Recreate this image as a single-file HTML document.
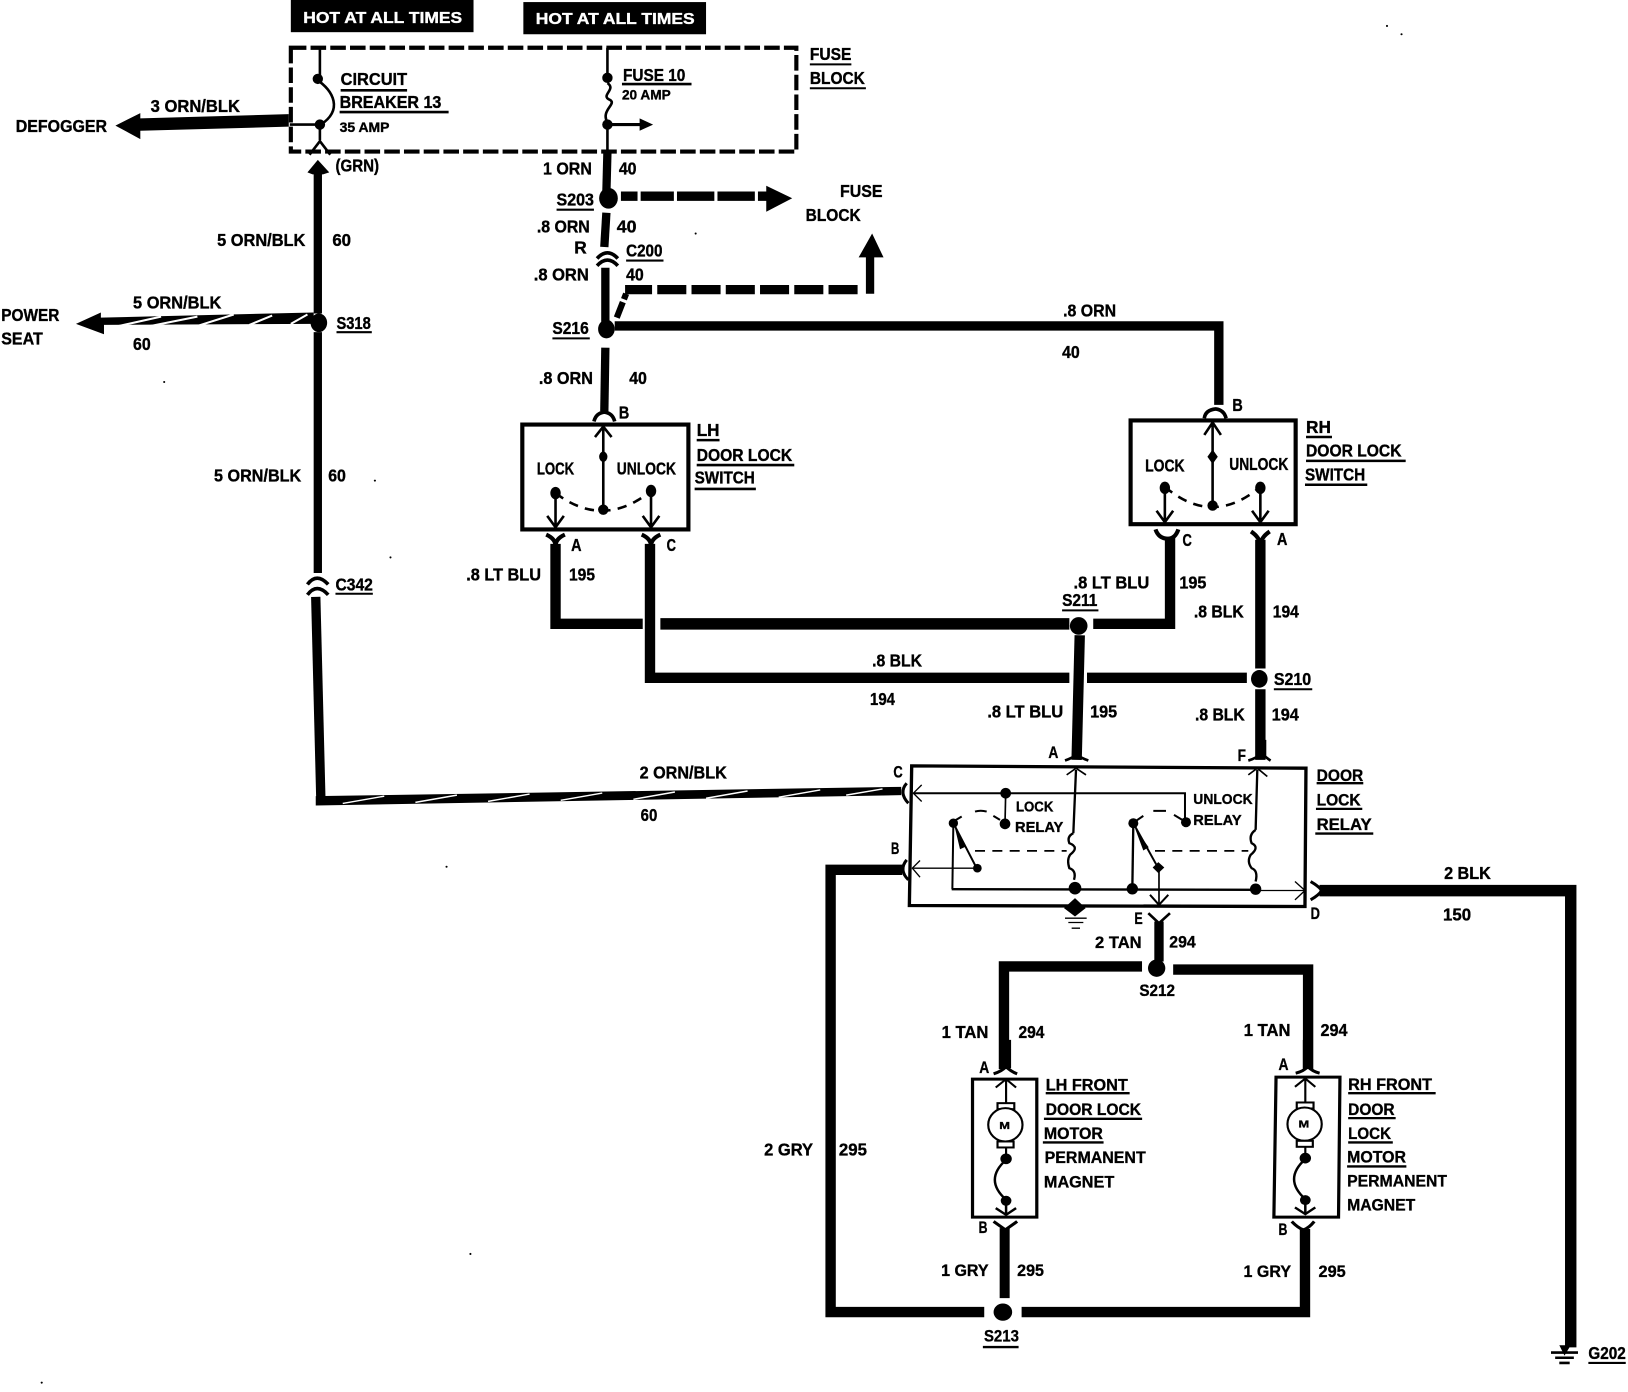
<!DOCTYPE html>
<html><head><meta charset="utf-8"><style>
html,body{margin:0;padding:0;background:#fff;width:1628px;height:1392px;overflow:hidden}
svg{display:block}
text{font-family:"Liberation Sans",sans-serif;font-weight:bold;font-size:16.5px;fill:#000;stroke:#000;stroke-width:.35px}
.s{font-size:13px}
text.w{fill:#fff;stroke:#fff;font-size:15px}
.z text{font-size:50px;stroke-width:1px}
.z .m{font-size:30px}
.k{fill:none;stroke:#000;stroke-linejoin:miter;stroke-linecap:butt}
</style></head><body>
<svg width="1628" height="1392" viewBox="0 0 1568 1341" xmlns="http://www.w3.org/2000/svg">
<rect width="1568" height="1341" fill="#fff"/>
<!-- hot boxes -->
<rect x="280" y="0" width="176" height="31" fill="#000"/>
<rect x="504" y="2" width="176" height="31" fill="#000"/>
<text class="w" x="292" y="22" textLength="153" lengthAdjust="spacingAndGlyphs">HOT AT ALL TIMES</text>
<text class="w" x="516" y="23" textLength="153" lengthAdjust="spacingAndGlyphs">HOT AT ALL TIMES</text>
<!-- fuse block -->
<path class="k" d="M280,46H767V146H280Z" stroke-width="4" stroke-dasharray="15 4"/>
<text x="780" y="58" textLength="40" lengthAdjust="spacingAndGlyphs">FUSE</text>
<text x="780" y="81" textLength="53" lengthAdjust="spacingAndGlyphs">BLOCK</text>
<path class="k" d="M780,62H820M780,85H834" stroke-width="2"/>
<text x="328" y="82" textLength="64" lengthAdjust="spacingAndGlyphs">CIRCUIT</text>
<text x="327" y="104" textLength="98" lengthAdjust="spacingAndGlyphs">BREAKER 13</text>
<text class="s" x="327" y="127" textLength="48" lengthAdjust="spacingAndGlyphs">35 AMP</text>
<path class="k" d="M328,87H392M327,108H432" stroke-width="2.5"/>
<path class="k" d="M308,46V76" stroke-width="2.5"/>
<path class="k" d="M308,76C326,88 334,106 313,120" stroke-width="2.5" transform="translate(-4,0)"/>
<path class="k" d="M279,120H309" stroke-width="2.5"/>
<circle cx="306" cy="76" r="5"/><circle cx="308" cy="120" r="5"/>
<path class="k" d="M308,120V135M298,149L308,136L318,149" stroke-width="2.5"/>
<!-- defogger -->
<path d="M278,110V122L135,126V134L111,121L135,109V114Z"/>
<text x="145" y="108" textLength="86" lengthAdjust="spacingAndGlyphs">3 ORN/BLK</text>
<text x="15" y="127" textLength="88" lengthAdjust="spacingAndGlyphs">DEFOGGER</text>
<!-- left vertical -->
<path class="k" d="M306,165V302" stroke-width="8"/>
<path d="M296,166L306,154L317,166L311,168H301Z"/>
<text x="323" y="165" textLength="42" lengthAdjust="spacingAndGlyphs">(GRN)</text>
<text x="209" y="237" textLength="85" lengthAdjust="spacingAndGlyphs">5 ORN/BLK</text>
<text x="320" y="237" textLength="18" lengthAdjust="spacingAndGlyphs">60</text>
<ellipse cx="307" cy="311" rx="8" ry="9"/>
<text x="324" y="317" textLength="33" lengthAdjust="spacingAndGlyphs">S318</text>
<path class="k" d="M324,320H358" stroke-width="2"/>
<path class="k" d="M306,320V552" stroke-width="8"/>
<path class="k" d="M296,563Q305,551 316,563M296,573Q305,561 316,573" stroke-width="3.5"/>
<path class="k" d="M304,575L309,773" stroke-width="9"/>
<text x="206" y="464" textLength="84" lengthAdjust="spacingAndGlyphs">5 ORN/BLK</text>
<text x="316" y="464" textLength="17" lengthAdjust="spacingAndGlyphs">60</text>
<text x="323" y="569" textLength="36" lengthAdjust="spacingAndGlyphs">C342</text>
<path class="k" d="M323,572H359" stroke-width="2"/>
<!-- power seat -->
<path d="M302,301V312L100,313V322L73,312L97,301V306Z"/>
<g stroke="#fff" stroke-width="2"><path d="M110,315L155,305M140,315L190,305M190,314L225,303M240,313L262,304M280,312L296,303"/></g>
<text x="128" y="297" textLength="85" lengthAdjust="spacingAndGlyphs">5 ORN/BLK</text>
<text x="1" y="309" textLength="56" lengthAdjust="spacingAndGlyphs">POWER</text>
<text x="1" y="332" textLength="40" lengthAdjust="spacingAndGlyphs">SEAT</text>
<text x="128" y="337" textLength="17" lengthAdjust="spacingAndGlyphs">60</text>
<!-- 2 ORN/BLK -->
<path d="M304,767L868,758V766L304,776Z"/>
<g stroke="#fff" stroke-width="1.4"><path d="M330,774L370,767M400,773L440,766M470,772L510,765M540,771L580,764M610,770L650,763M680,769L720,762M750,768L790,761M815,766L850,760"/></g>
<text x="616" y="750" textLength="84" lengthAdjust="spacingAndGlyphs">2 ORN/BLK</text>
<text x="617" y="791" textLength="16" lengthAdjust="spacingAndGlyphs">60</text>
<!-- fuse 10 column -->
<path class="k" d="M585,46V73" stroke-width="2.5"/><circle cx="585" cy="75" r="5"/>
<path class="k" d="M585,80C594,86 578,92 587,96C595,100 578,106 585,118V146" stroke-width="2.5"/>
<circle cx="585" cy="120" r="5"/>
<path class="k" d="M585,120H618" stroke-width="3"/><path d="M616,114L629,120L616,126Z"/>
<text x="600" y="78" textLength="60" lengthAdjust="spacingAndGlyphs">FUSE 10</text>
<path class="k" d="M599,81H666" stroke-width="2.5"/>
<text class="s" x="599" y="96" textLength="47" lengthAdjust="spacingAndGlyphs">20 AMP</text>
<path class="k" d="M585,146L584,185" stroke-width="8"/>
<text x="523" y="168" textLength="47" lengthAdjust="spacingAndGlyphs">1 ORN</text>
<text x="596" y="168" textLength="17" lengthAdjust="spacingAndGlyphs">40</text>
<ellipse cx="586" cy="191" rx="9" ry="10"/>
<text x="536" y="198" textLength="36" lengthAdjust="spacingAndGlyphs">S203</text>
<path class="k" d="M536,202H572" stroke-width="2"/>
<path class="k" d="M598,189H742" stroke-width="9" stroke-dasharray="16 3 32 3 36 3 36 3"/>
<path d="M738,179L763,191L738,204Z"/>
<text x="809" y="190" textLength="41" lengthAdjust="spacingAndGlyphs">FUSE</text>
<text x="776" y="213" textLength="53" lengthAdjust="spacingAndGlyphs">BLOCK</text>
<path class="k" d="M584,205L582,238" stroke-width="8"/>
<text x="517" y="224" textLength="51" lengthAdjust="spacingAndGlyphs">.8 ORN</text>
<text x="594" y="224" textLength="19" lengthAdjust="spacingAndGlyphs">40</text>
<text x="553" y="244" textLength="12" lengthAdjust="spacingAndGlyphs">R</text>
<path class="k" d="M575,249Q585,238 595,249M575,256Q585,245 595,256" stroke-width="3.5"/>
<text x="603" y="247" textLength="35" lengthAdjust="spacingAndGlyphs">C200</text>
<path class="k" d="M603,251H639" stroke-width="2"/>
<path class="k" d="M583,258V310" stroke-width="8"/>
<text x="514" y="270" textLength="53" lengthAdjust="spacingAndGlyphs">.8 ORN</text>
<text x="603" y="270" textLength="17" lengthAdjust="spacingAndGlyphs">40</text>
<path class="k" d="M594,306L603,283" stroke-width="6" stroke-dasharray="16 3"/>
<path class="k" d="M602,279H838" stroke-width="9" stroke-dasharray="26 5 28 5 28 5 28 5 28 5 28 5 28"/>
<path class="k" d="M838,283V246" stroke-width="8"/>
<path d="M827,248L840,225L851,248Z"/>
<!-- S216 -->
<ellipse cx="584" cy="317" rx="8" ry="9"/>
<text x="532" y="322" textLength="35" lengthAdjust="spacingAndGlyphs">S216</text>
<path class="k" d="M532,326H568" stroke-width="2"/>
<path class="k" d="M592,314H1174V390" stroke-width="9"/>
<text x="1024" y="305" textLength="51" lengthAdjust="spacingAndGlyphs">.8 ORN</text>
<text x="1023" y="345" textLength="17" lengthAdjust="spacingAndGlyphs">40</text>
<path class="k" d="M583,335L582,396" stroke-width="8"/>
<text x="519" y="370" textLength="52" lengthAdjust="spacingAndGlyphs">.8 ORN</text>
<text x="606" y="370" textLength="17" lengthAdjust="spacingAndGlyphs">40</text>
<text x="596" y="403" textLength="10" lengthAdjust="spacingAndGlyphs">B</text>
<path class="k" d="M572,406Q574,398 582,397Q590,398 592,406" stroke-width="3.5"/>
<!-- LH switch -->
<path class="k" d="M503,409H663V510H503Z" stroke-width="4"/>
<path class="k" d="M581,410V491M573,421L581,411L589,421" stroke-width="2.5"/>
<ellipse cx="581" cy="440" rx="4" ry="5"/><circle cx="581" cy="491" r="5"/>
<path class="k" d="M535,475Q581,510 627,473" stroke-width="2.5" stroke-dasharray="9 7"/>
<ellipse cx="535" cy="475" rx="5" ry="6"/><ellipse cx="627" cy="473" rx="5" ry="6"/>
<path class="k" d="M535,475V508M527,497L535,508L543,497M627,473V508M619,497L627,508L635,497" stroke-width="2.5"/>
<text x="517" y="457" textLength="36" lengthAdjust="spacingAndGlyphs">LOCK</text>
<text x="594" y="457" textLength="57" lengthAdjust="spacingAndGlyphs">UNLOCK</text>
<text x="671" y="420" textLength="22" lengthAdjust="spacingAndGlyphs">LH</text>
<text x="671" y="444" textLength="92" lengthAdjust="spacingAndGlyphs">DOOR LOCK</text>
<text x="669" y="466" textLength="58" lengthAdjust="spacingAndGlyphs">SWITCH</text>
<path class="k" d="M671,424H693M671,448H765M669,471H728" stroke-width="2.5"/>
<path class="k" d="M526,515Q535,519 535,526Q535,519 544,515M618,515Q627,519 627,526Q627,519 636,515" stroke-width="4"/>
<text x="550" y="531" textLength="10" lengthAdjust="spacingAndGlyphs">A</text>
<text x="642" y="531" textLength="9" lengthAdjust="spacingAndGlyphs">C</text>
<path class="k" d="M535,524V601H619" stroke-width="10"/>
<path class="k" d="M626,524V653H1030" stroke-width="10"/>
<path class="k" d="M1047,653H1201" stroke-width="10"/>
<path class="k" d="M636,601H1030" stroke-width="11" stroke-linecap="round"/>
<path class="k" d="M1053,601H1127V518" stroke-width="10"/>
<ellipse cx="1039" cy="603" rx="8.5" ry="8.5"/>
<text x="449" y="559" textLength="72" lengthAdjust="spacingAndGlyphs">.8 LT BLU</text>
<text x="548" y="559" textLength="25" lengthAdjust="spacingAndGlyphs">195</text>
<text x="1034" y="567" textLength="73" lengthAdjust="spacingAndGlyphs">.8 LT BLU</text>
<text x="1136" y="567" textLength="26" lengthAdjust="spacingAndGlyphs">195</text>
<text x="1023" y="584" textLength="34" lengthAdjust="spacingAndGlyphs">S211</text>
<path class="k" d="M1023,588H1058" stroke-width="2"/>
<text x="840" y="642" textLength="48" lengthAdjust="spacingAndGlyphs">.8 BLK</text>
<text x="838" y="679" textLength="24" lengthAdjust="spacingAndGlyphs">194</text>
<path class="k" d="M1040,612L1037,732" stroke-width="10"/>
<text x="951" y="691" textLength="73" lengthAdjust="spacingAndGlyphs">.8 LT BLU</text>
<text x="1050" y="691" textLength="26" lengthAdjust="spacingAndGlyphs">195</text>
<!-- RH switch -->
<path class="k" d="M1089,405H1248V505H1089Z" stroke-width="4"/>
<path class="k" d="M1168,406V487M1160,419L1168,407L1176,419" stroke-width="2.5"/>
<path d="M1168,433L1173,440L1168,447L1163,440Z"/><circle cx="1168" cy="487" r="5"/>
<path class="k" d="M1122,469Q1168,508 1214,469" stroke-width="2.5" stroke-dasharray="9 7"/>
<ellipse cx="1122" cy="470" rx="5" ry="6"/><ellipse cx="1214" cy="470" rx="5" ry="6"/>
<path class="k" d="M1122,470V503M1114,492L1122,503L1130,492M1214,470V503M1206,492L1214,503L1222,492" stroke-width="2.5"/>
<text x="1103" y="454" textLength="38" lengthAdjust="spacingAndGlyphs">LOCK</text>
<text x="1184" y="453" textLength="57" lengthAdjust="spacingAndGlyphs">UNLOCK</text>
<text x="1187" y="396" textLength="10" lengthAdjust="spacingAndGlyphs">B</text>
<path class="k" d="M1160,403Q1161,395 1171,394Q1179,395 1181,403" stroke-width="3.5"/>
<text x="1258" y="417" textLength="24" lengthAdjust="spacingAndGlyphs">RH</text>
<text x="1258" y="440" textLength="92" lengthAdjust="spacingAndGlyphs">DOOR LOCK</text>
<text x="1257" y="463" textLength="58" lengthAdjust="spacingAndGlyphs">SWITCH</text>
<path class="k" d="M1258,421H1283M1258,444H1354M1257,467H1317" stroke-width="2.5"/>
<path class="k" d="M1113,510Q1116,519 1125,519Q1132,519 1135,510M1205,512Q1214,518 1214,526Q1214,518 1223,512" stroke-width="4"/>
<text x="1139" y="526" textLength="9" lengthAdjust="spacingAndGlyphs">C</text>
<text x="1230" y="525" textLength="10" lengthAdjust="spacingAndGlyphs">A</text>
<path class="k" d="M1214,520V644" stroke-width="10"/>
<ellipse cx="1213" cy="654" rx="8" ry="8.5"/>
<path class="k" d="M1214,664V732" stroke-width="10"/>
<text x="1150" y="595" textLength="48" lengthAdjust="spacingAndGlyphs">.8 BLK</text>
<text x="1226" y="595" textLength="25" lengthAdjust="spacingAndGlyphs">194</text>
<text x="1227" y="660" textLength="36" lengthAdjust="spacingAndGlyphs">S210</text>
<path class="k" d="M1227,664H1264" stroke-width="2"/>
<text x="1151" y="694" textLength="48" lengthAdjust="spacingAndGlyphs">.8 BLK</text>
<text x="1225" y="694" textLength="26" lengthAdjust="spacingAndGlyphs">194</text>
<!-- outer wires -->
<path class="k" d="M869,838H800V1264H948" stroke-width="10"/>
<path class="k" d="M984,1264H1257V1184" stroke-width="10"/>
<path class="k" d="M1271,858H1513V1298" stroke-width="11"/>
<text x="1391" y="847" textLength="45" lengthAdjust="spacingAndGlyphs">2 BLK</text>
<text x="1390" y="887" textLength="27" lengthAdjust="spacingAndGlyphs">150</text>
<text x="736" y="1113" textLength="47" lengthAdjust="spacingAndGlyphs">2 GRY</text>
<text x="808" y="1113" textLength="27" lengthAdjust="spacingAndGlyphs">295</text>
<path class="k" d="M1494,1303H1520M1498,1308H1516M1502,1313H1512" stroke-width="2.5"/>
<text x="1530" y="1309" textLength="36" lengthAdjust="spacingAndGlyphs">G202</text>
<path class="k" d="M1530,1313H1566" stroke-width="2"/>
<path d="M1502,1296L1507,1306L1513,1296Z"/>
<!-- lower tan wires -->
<path class="k" d="M1100,931H967V1030" stroke-width="10"/>
<path class="k" d="M1130,934H1260V1030" stroke-width="10"/>
<!-- relay group: zoom coords -->
<g class="z" transform="scale(0.9632) translate(860,740) scale(0.33333)">
<path class="k" d="M155,78L1338,85L1335,500L148,497Z" stroke-width="10"/>
<path class="k" d="M140,130Q115,158 145,190M140,360Q115,390 145,420" stroke-width="9"/>
<path class="k" d="M160,160H975V240" stroke-width="6"/>
<path class="k" d="M185,135L160,160L185,185M180,362L157,385L180,412" stroke-width="4"/>
<circle cx="437" cy="160" r="16"/><path class="k" d="M437,160L435,250" stroke-width="5"/><circle cx="435" cy="252" r="16"/>
<path class="k" d="M420,240L400,228M345,215Q362,210 380,215M305,230L275,248" stroke-width="6"/>
<circle cx="280" cy="250" r="14"/>
<path class="k" d="M280,250L277,448" stroke-width="6"/>
<path class="k" d="M280,250L350,385" stroke-width="6"/><path d="M285,265L318,320L300,328Z"/>
<circle cx="352" cy="385" r="13"/>
<path class="k" d="M352,385H160" stroke-width="4"/>
<path class="k" d="M345,333H620" stroke-width="5" stroke-dasharray="30 22"/>
<path class="k" d="M640,280Q620,290 628,310Q660,322 630,345Q620,360 628,385Q650,392 642,420M648,90L640,280" stroke-width="7"/>
<path class="k" d="M620,105L648,85L678,105M1165,105L1192,85L1222,110" stroke-width="5"/>
<path class="k" d="M275,448L1200,450" stroke-width="7"/>
<path class="k" d="M1200,452H1335" stroke-width="3.5"/>
<path class="k" d="M1305,425L1335,452L1305,480" stroke-width="4"/>
<circle cx="645" cy="445" r="19"/>
<path d="M645,475L677,505L645,530L612,505Z"/>
<path class="k" d="M615,535H680M625,548H670M635,565H660" stroke-width="4"/>
<circle cx="817" cy="447" r="17"/>
<path class="k" d="M820,250L817,447" stroke-width="7"/>
<circle cx="820" cy="250" r="15"/>
<path class="k" d="M820,250L895,385" stroke-width="6"/><path d="M825,265L866,322L850,332Z"/>
<path d="M895,367L913,383L895,400L878,383Z"/>
<path class="k" d="M897,385V495" stroke-width="5"/>
<path class="k" d="M870,465L897,495L925,465" stroke-width="6"/>
<path class="k" d="M885,333H1165" stroke-width="5" stroke-dasharray="30 22"/>
<path class="k" d="M1187,270Q1165,285 1175,310Q1200,322 1172,345Q1160,365 1175,385Q1195,392 1187,425M1192,90L1187,270" stroke-width="7"/>
<circle cx="1187" cy="448" r="17"/>
<path class="k" d="M850,228L825,245M880,213H918M942,225L975,245" stroke-width="6"/>
<circle cx="978" cy="247" r="15"/>
<!-- connector forks -->
<path class="k" d="M615,62Q635,55 650,45Q665,55 685,62M1165,62Q1190,55 1205,40Q1220,55 1232,62" stroke-width="8"/>
<path class="k" d="M650,0V48M1205,0V48" stroke-width="28"/>
<path class="k" d="M1352,425Q1378,440 1385,452Q1378,465 1352,480" stroke-width="9"/>
<path class="k" d="M865,520L897,550L930,520" stroke-width="8"/>
<path class="k" d="M897,545V665" stroke-width="28"/>
<circle cx="890" cy="685" r="26"/>
<text x="468" y="215" textLength="112" lengthAdjust="spacingAndGlyphs" style="font-size:44px">LOCK</text>
<text x="465" y="277" textLength="145" lengthAdjust="spacingAndGlyphs" style="font-size:44px">RELAY</text>
<text x="1000" y="193" textLength="178" lengthAdjust="spacingAndGlyphs" style="font-size:44px">UNLOCK</text>
<text x="1000" y="255" textLength="145" lengthAdjust="spacingAndGlyphs" style="font-size:44px">RELAY</text>
<text x="1370" y="123" textLength="140" lengthAdjust="spacingAndGlyphs">DOOR</text>
<text x="1370" y="197" textLength="132" lengthAdjust="spacingAndGlyphs">LOCK</text>
<text x="1370" y="270" textLength="165" lengthAdjust="spacingAndGlyphs">RELAY</text>
<path class="k" d="M1370,130H1510M1368,207H1507M1366,281H1540" stroke-width="7"/>
<text x="565" y="55" textLength="30" lengthAdjust="spacingAndGlyphs">A</text>
<text x="100" y="113" textLength="28" lengthAdjust="spacingAndGlyphs">C</text>
<text x="93" y="342" textLength="25" lengthAdjust="spacingAndGlyphs">B</text>
<text x="1133" y="63" textLength="25" lengthAdjust="spacingAndGlyphs">F</text>
<text x="1352" y="537" textLength="28" lengthAdjust="spacingAndGlyphs">D</text>
<text x="823" y="553" textLength="25" lengthAdjust="spacingAndGlyphs">E</text>
<text x="705" y="625" textLength="140" lengthAdjust="spacingAndGlyphs">2 TAN</text>
<text x="928" y="623" textLength="79" lengthAdjust="spacingAndGlyphs">294</text>
<text x="838" y="768" textLength="107" lengthAdjust="spacingAndGlyphs">S212</text>
</g>
<!-- 1 TAN labels -->
<text x="907" y="1000" textLength="45" lengthAdjust="spacingAndGlyphs">1 TAN</text>
<text x="981" y="1000" textLength="25" lengthAdjust="spacingAndGlyphs">294</text>
<text x="1198" y="998" textLength="45" lengthAdjust="spacingAndGlyphs">1 TAN</text>
<text x="1272" y="998" textLength="26" lengthAdjust="spacingAndGlyphs">294</text>
<!-- motors group -->
<g class="z" transform="scale(0.9632) translate(900,1040) scale(0.35714,0.33333)">
<path class="k" d="M297,0V85M1142,0V85" stroke-width="28"/>
<path class="k" d="M262,102Q285,95 297,80Q310,95 328,102M1108,100Q1130,95 1142,80Q1155,95 1175,100" stroke-width="9"/>
<path class="k" d="M203,118H383V532H203Z" stroke-width="9"/>
<path class="k" d="M1053,112H1232L1228,532H1047Z" stroke-width="9"/>
<g>
<path class="k" d="M297,120V190M268,143L297,118L325,143" stroke-width="6"/>
<rect x="273" y="190" width="47" height="18" fill="#fff" stroke="#000" stroke-width="6"/>
<ellipse cx="295" cy="255" rx="48" ry="50" fill="#fff" stroke="#000" stroke-width="6"/>
<rect x="273" y="305" width="45" height="18" fill="#fff" stroke="#000" stroke-width="6"/>
<text class="m" x="278" y="268" textLength="30" lengthAdjust="spacingAndGlyphs">M</text>
<path class="k" d="M297,323V345" stroke-width="6"/>
<circle cx="297" cy="357" r="16"/>
<path class="k" d="M297,360C255,400 255,440 297,480V525M268,505L297,525L325,505" stroke-width="7"/>
<circle cx="297" cy="483" r="15"/>
</g>
<g transform="translate(838,-2)">
<path class="k" d="M297,120V190M268,143L297,118L325,143" stroke-width="6"/>
<rect x="273" y="190" width="47" height="18" fill="#fff" stroke="#000" stroke-width="6"/>
<ellipse cx="295" cy="255" rx="48" ry="50" fill="#fff" stroke="#000" stroke-width="6"/>
<rect x="273" y="305" width="45" height="18" fill="#fff" stroke="#000" stroke-width="6"/>
<text class="m" x="278" y="265" textLength="30" lengthAdjust="spacingAndGlyphs">M</text>
<path class="k" d="M297,323V345" stroke-width="6"/>
<circle cx="297" cy="357" r="16"/>
<path class="k" d="M297,360C255,400 255,440 297,480V525M268,505L297,525L325,505" stroke-width="7"/>
<circle cx="297" cy="483" r="15"/>
</g>
<path class="k" d="M262,545L295,570L328,545M1097,545Q1115,565 1130,570Q1145,565 1160,545" stroke-width="9"/>
<path class="k" d="M293,565V775" stroke-width="28"/>
<circle cx="288" cy="817" r="26"/>
<text x="222" y="100" textLength="28" lengthAdjust="spacingAndGlyphs">A</text>
<text x="220" y="580" textLength="25" lengthAdjust="spacingAndGlyphs">B</text>
<text x="1060" y="90" textLength="28" lengthAdjust="spacingAndGlyphs">A</text>
<text x="1060" y="585" textLength="25" lengthAdjust="spacingAndGlyphs">B</text>
<text x="408" y="152" textLength="230" lengthAdjust="spacingAndGlyphs">LH FRONT</text>
<text x="408" y="225" textLength="267" lengthAdjust="spacingAndGlyphs">DOOR LOCK</text>
<text x="403" y="297" textLength="165" lengthAdjust="spacingAndGlyphs">MOTOR</text>
<text x="405" y="370" textLength="283" lengthAdjust="spacingAndGlyphs">PERMANENT</text>
<text x="403" y="443" textLength="197" lengthAdjust="spacingAndGlyphs">MAGNET</text>
<path class="k" d="M408,160H643M403,237H678M400,308H570" stroke-width="7"/>
<text x="1255" y="150" textLength="235" lengthAdjust="spacingAndGlyphs">RH FRONT</text>
<text x="1255" y="225" textLength="130" lengthAdjust="spacingAndGlyphs">DOOR</text>
<text x="1255" y="297" textLength="120" lengthAdjust="spacingAndGlyphs">LOCK</text>
<text x="1252" y="368" textLength="165" lengthAdjust="spacingAndGlyphs">MOTOR</text>
<text x="1252" y="440" textLength="280" lengthAdjust="spacingAndGlyphs">PERMANENT</text>
<text x="1252" y="512" textLength="191" lengthAdjust="spacingAndGlyphs">MAGNET</text>
<path class="k" d="M1255,160H1500M1255,235H1388M1255,308H1380M1252,380H1418" stroke-width="7"/>
<text x="115" y="708" textLength="133" lengthAdjust="spacingAndGlyphs">1 GRY</text>
<text x="328" y="708" textLength="75" lengthAdjust="spacingAndGlyphs">295</text>
<text x="962" y="712" textLength="133" lengthAdjust="spacingAndGlyphs">1 GRY</text>
<text x="1172" y="712" textLength="76" lengthAdjust="spacingAndGlyphs">295</text>
<text x="235" y="905" textLength="98" lengthAdjust="spacingAndGlyphs">S213</text>
<path class="k" d="M232,922H332" stroke-width="7"/>
</g>
<!-- specks -->
<g><circle cx="670" cy="225" r="1"/><circle cx="361" cy="463" r="1"/><circle cx="376" cy="537" r="1"/><circle cx="430" cy="835" r="1"/><circle cx="453" cy="1208" r="1"/><circle cx="1336" cy="25" r="1"/><circle cx="1350" cy="33" r="1"/><circle cx="40" cy="1332" r="1"/><circle cx="158" cy="368" r="1"/></g>
</svg>
</body></html>
